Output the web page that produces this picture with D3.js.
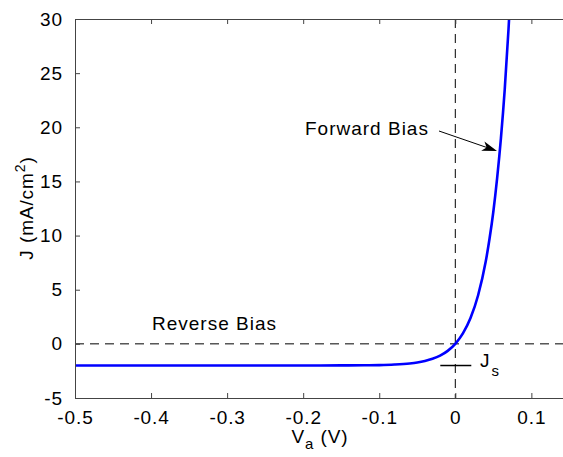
<!DOCTYPE html>
<html>
<head>
<meta charset="utf-8">
<script src="https://cdn.jsdelivr.net/npm/d3@7"></script>
<style>
  body { margin: 0; background: #fff; }
  text { font-family: Arial, "Liberation Sans", sans-serif; }
</style>
</head>
<body>
<svg id="chart"></svg>
<script>
// Applied voltage (V) and current density (mA/cm^2)
var voltage = [-0.5, -0.4, -0.3, -0.2, -0.15, -0.12, -0.1, -0.08, -0.06, -0.05, -0.04, -0.03, -0.02, -0.01,
               0, 0.01, 0.02, 0.03, 0.04, 0.045, 0.05, 0.055, 0.06, 0.065, 0.07, 0.073];
var density = [-2.0, -2.0, -2.0, -2.0, -1.99, -1.98, -1.96, -1.91, -1.81, -1.72, -1.58, -1.38, -1.09, -0.65,
               0, 0.96, 2.38, 4.49, 7.6, 9.7, 12.2, 15.3, 19.0, 23.5, 29.1, 33.0];
var xTicks = [-0.5, -0.4, -0.3, -0.2, -0.1, 0, 0.1];
var yTicks = [-5, 0, 5, 10, 15, 20, 25, 30];
var saturation = -2; // J_s level

var W = 563, H = 457;
var mLeft = 75, mTop = 19, mRight = 563, mBottom = 398;
var fs = '19px', ls = '0.9px';

var svg = d3.select('#chart').attr('width', W).attr('height', H);

var x = d3.scaleLinear().domain([-0.5, (mRight - mLeft) / 760.6 - 0.5]).range([mLeft, mRight]),
    y = d3.scaleLinear().domain([-5, 30]).range([mBottom, mTop]);

svg.append('defs').append('clipPath').attr('id', 'plot')
  .append('rect').attr('x', mLeft).attr('y', mTop).attr('width', mRight - mLeft).attr('height', mBottom - mTop);

// dashed reference lines at V=0 and J=0
svg.append('line')
    .attr('x1', x(0)).attr('x2', x(0)).attr('y1', mTop).attr('y2', mBottom)
    .attr('stroke', '#000').attr('stroke-dasharray', '9,6');
svg.append('line')
    .attr('x1', mLeft).attr('x2', mRight).attr('y1', y(0)).attr('y2', y(0))
    .attr('stroke', '#000').attr('stroke-dasharray', '9,6');

// J-V curve
var line = d3.line()
    .x(function(d, i) { return x(voltage[i]); })
    .y(function(d) { return y(d); })
    .curve(d3.curveMonotoneX);

svg.append('path')
    .datum(density)
    .attr('clip-path', 'url(#plot)')
    .attr('d', line)
    .attr('fill', 'none')
    .attr('stroke', '#0000ff')
    .attr('stroke-width', 2.6);

// axes (plain hyphen for minus, like the original)
var fmt = function(d) { return String(d); };
var xAxis = svg.append('g')
    .attr('transform', 'translate(0,' + mBottom + ')')
    .call(d3.axisBottom(x).tickValues(xTicks).tickSizeInner(-5).tickSizeOuter(0).tickPadding(13).tickFormat(fmt));
var xTop = svg.append('g')
    .attr('transform', 'translate(0,' + mTop + ')')
    .call(d3.axisTop(x).tickValues(xTicks).tickSizeInner(-5).tickSizeOuter(0).tickFormat(''));
var yAxis = svg.append('g')
    .attr('transform', 'translate(' + mLeft + ',0)')
    .call(d3.axisLeft(y).tickValues(yTicks).tickSizeInner(-5).tickSizeOuter(0).tickPadding(12).tickFormat(fmt));

[xAxis, xTop, yAxis].forEach(function(g) {
  g.select('.domain').attr('stroke', '#444');
  g.selectAll('.tick line').attr('stroke', '#444');
  g.selectAll('.tick text')
    .attr('fill', '#000')
    .style('font-size', fs)
    .style('letter-spacing', ls);
});
xAxis.selectAll('.tick text').attr('dy', '0.7em');

// axis labels
var xl = svg.append('text')
    .attr('x', 320).attr('y', 443)
    .attr('text-anchor', 'middle')
    .style('font-size', fs).style('letter-spacing', ls);
xl.append('tspan').text('V');
xl.append('tspan').attr('dy', 6).style('font-size', '15px').text('a');
xl.append('tspan').attr('dy', -6).text(' (V)');

var yl = svg.append('text')
    .attr('transform', 'translate(33,208) rotate(-90)')
    .attr('text-anchor', 'middle')
    .style('font-size', fs).style('letter-spacing', ls);
yl.append('tspan').text('J (mA/cm');
yl.append('tspan').attr('dy', -8).style('font-size', '14px').text('2');
yl.append('tspan').attr('dy', 8).text(')');

// annotations
svg.append('text')
    .attr('x', 152).attr('y', 330)
    .style('font-size', fs).style('letter-spacing', '1px')
    .text('Reverse Bias');

svg.append('text')
    .attr('x', 305).attr('y', 135)
    .style('font-size', fs).style('letter-spacing', '1px')
    .text('Forward Bias');

// arrow pointing at the curve
var ax0 = 439, ay0 = 131, ax1 = 497, ay1 = 151;
var ang = Math.atan2(ay1 - ay0, ax1 - ax0);
svg.append('line')
    .attr('x1', ax0).attr('y1', ay0)
    .attr('x2', ax1 - 8 * Math.cos(ang)).attr('y2', ay1 - 8 * Math.sin(ang))
    .attr('stroke', '#000').attr('stroke-width', 1);
var head = [[0, 0], [-15, -5], [-11, 0], [-15, 5]].map(function(p) {
  return [ax1 + p[0] * Math.cos(ang) - p[1] * Math.sin(ang),
          ay1 + p[0] * Math.sin(ang) + p[1] * Math.cos(ang)];
});
svg.append('path')
    .attr('d', 'M' + head.join('L') + 'Z')
    .attr('fill', '#000');

// J_s marker
svg.append('line')
    .attr('x1', x(0) - 15).attr('x2', x(0) + 16)
    .attr('y1', y(saturation)).attr('y2', y(saturation))
    .attr('stroke', '#000').attr('stroke-width', 1.5);
var js = svg.append('text')
    .attr('x', 480).attr('y', 367)
    .style('font-size', fs);
js.append('tspan').text('J');
js.append('tspan').attr('dx', 2).attr('dy', 9).style('font-size', '15px').text('s');
</script>
</body>
</html>
